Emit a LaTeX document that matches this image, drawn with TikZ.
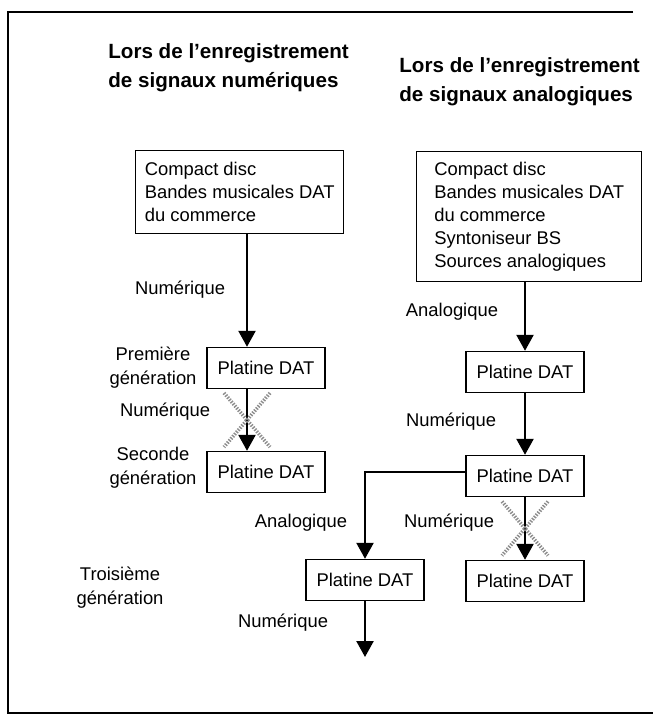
\documentclass[tikz,border=0pt]{standalone}
\usepackage{fontspec}
\setmainfont{Liberation Sans}
\usetikzlibrary{arrows.meta,positioning,calc}

\begin{document}
\begin{tikzpicture}[x=0.5pt, y=-0.5pt,
    box/.style={rectangle, draw=black, line width=0.7pt, align=center, fill=white, minimum height=20.5pt, minimum width=59pt, inner sep=0pt, font=\fontsize{9.2}{11.5}\selectfont},
    src/.style={box, align=left, anchor=north west},
    lbl/.style={align=center, font=\fontsize{9.2}{12}\selectfont},
    head/.style={align=left, anchor=west, inner sep=0pt, font=\fontsize{10.3}{14.5}\selectfont\bfseries},
    link/.style={->, >={Triangle[length=8pt,width=8.5pt]}, line width=1.2pt},
    cross/.style={draw=black!45, line width=1.8pt, dash pattern=on 0.7pt off 0.7pt}
]
    \useasboundingbox (0,0) rectangle (653,715);

    % Frame
    \draw[line width=0.8pt] (633,12) -- (8,12) -- (8,713) -- (653,713);

    % Headings
    \node[head] (headL) at (108,68) {Lors de l’enregistrement\\de signaux numériques};
    \node[head] (headR) at (399,82) {Lors de l’enregistrement\\de signaux analogiques};

    % Generations
    \node[lbl] (genA) at (153,368) {Première\\génération};
    \node[lbl] (genB) at (153,468) {Seconde\\génération};
    \node[lbl] (genC) at (120,588) {Troisième\\génération};

    % Digital recording (left)
    \node[src, minimum width=104pt, minimum height=41.5pt] (srcL) at (135,150) {Compact disc\\Bandes musicales DAT\\du commerce};
    \node[box] (platL1) at (266,368) {Platine DAT};
    \node[box] (platL2) at (266,472) {Platine DAT};
    \coordinate (colL) at (247,0);

    % Analog recording (right)
    \node[src, minimum width=112.5pt, minimum height=65pt] (srcR) at (416,151) {Compact disc\\Bandes musicales DAT\\du commerce\\Syntoniseur BS\\Sources analogiques};
    \node[box] (platR1) at (525,372) {Platine DAT};
    \node[box] (platR2) at (525,476) {Platine DAT};
    \node[box] (platR3) at (365,580) {Platine DAT};
    \node[box] (platR4) at (525,581) {Platine DAT};
    \coordinate (endR) at (365,657);

    % Connectors
    \draw[link] (srcL.south -| colL) -- (platL1.north -| colL);
    \draw[link] (platL1.south -| colL) -- (platL2.north -| colL);
    \draw[link] (platR1.north |- srcR.south) -- (platR1.north);
    \draw[link] (platR1.south) -- (platR2.north);
    \draw[link] ([yshift=2pt]platR2.west) -| (platR3.north);
    \draw[link] (platR2.south) -- (platR4.north);
    \draw[link] (platR3.south) -- (endR);

    % Connector labels
    \node[lbl] (numA) at (180,290) {Numérique};
    \node[lbl] (numB) at (165,412) {Numérique};
    \node[lbl] (anaA) at (452,312) {Analogique};
    \node[lbl] (numC) at (451,422) {Numérique};
    \node[lbl] (anaB) at (301,523) {Analogique};
    \node[lbl] (numD) at (449,523) {Numérique};
    \node[lbl] (numE) at (283,623) {Numérique};

    % Forbidden copies
    \coordinate (xL) at ($(platL1.south -| colL)!0.5!(platL2.north -| colL)$);
    \coordinate (xR) at ($(platR2.south)!0.5!(platR4.north)$);
    \foreach \c in {xL,xR} {
        \draw[cross] ($(\c)+(-23,-27)$) -- ($(\c)+(23,27)$);
        \draw[cross] ($(\c)+(23,-27)$) -- ($(\c)+(-23,27)$);
    }

\end{tikzpicture}
\end{document}
